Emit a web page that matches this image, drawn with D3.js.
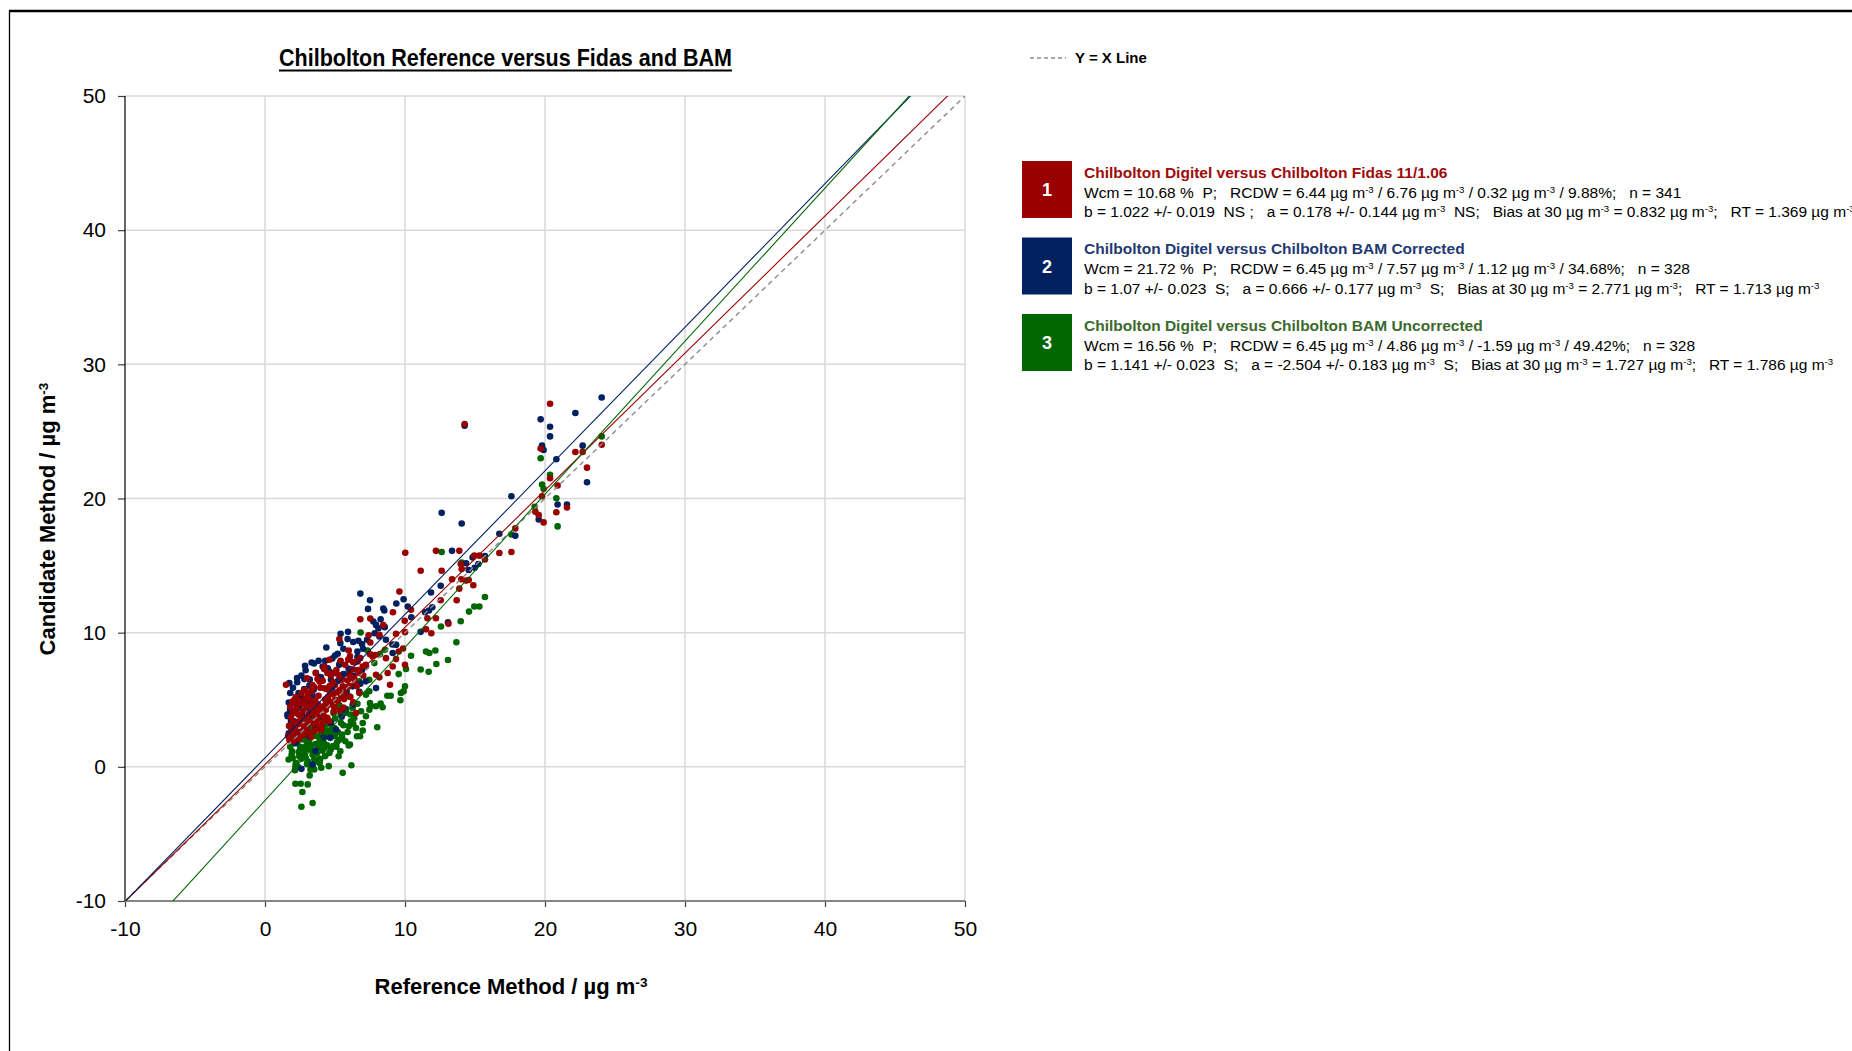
<!DOCTYPE html>
<html>
<head>
<meta charset="utf-8">
<script src="https://cdn.jsdelivr.net/npm/d3@7"></script>
<style>
  html, body { margin: 0; padding: 0; background: #fff; }
  svg { display: block; }
  text { font-family: "Liberation Sans", Arial, sans-serif; white-space: pre; }
</style>
</head>
<body>
<svg id="chart" width="1852" height="1051"></svg>
<script>
// values: [reference, candidate] in ug/m3
const bluePts = [
  [24.05,27.53],[22.17,26.37],[19.69,25.9],[20.36,25.35],[20.36,24.63],[14.26,25.43],[19.79,23.94],[19.9,23.62],
  [22.69,23.94],[20.81,22.92],[23.0,21.21],[20.9,19.55],[21.57,19.55],[19.55,18.44],[17.6,20.17],[12.62,18.93],
  [14.05,18.14],[16.74,17.37],[17.88,17.22],[13.36,16.1],[14.36,15.17],[14.83,15.61],[15.24,15.12],[15.71,15.71],
  [14.55,14.67],[14.98,14.84],[12.55,13.5],[11.86,12.99],[6.81,12.91],[7.5,12.42],[7.36,11.77],[8.45,11.8],
  [8.52,11.65],[9.38,12.17],[9.9,12.49],[10.2,11.95],[10.45,11.15],[11.43,11.52],[11.71,11.65],[11.95,11.9],
  [11.12,10.06],[13.07,10.78],[8.26,11.0],[7.74,10.83],[7.93,10.58],[8.1,10.33],[8.55,10.41],[7.83,9.96],
  [8.17,9.72],[8.64,9.47],[7.29,9.47],[6.67,9.39],[6.93,9.15],[5.93,10.06],[5.4,9.91],[5.38,9.22],[5.9,9.52],
  [9.1,9.12],[9.36,9.1],[9.12,8.48],[6.6,8.18],[7.21,7.48],[6.93,7.24],[7.93,5.87],[6.74,5.6],[4.38,8.9],
  [5.19,8.43],[4.81,8.08],[5.36,7.78],[3.33,7.78],[2.86,7.53],[3.83,7.9],[4.12,7.48],[4.48,7.34],[3.64,6.99],
  [4.0,6.67],[2.29,6.62],[1.74,6.25],[2.81,6.54],[3.17,6.05],[4.71,6.49],[4.95,6.99],[5.62,6.91],[5.98,7.29],
  [6.33,6.79],[2.4,5.5],[2.64,5.13],[2.1,4.76],[1.79,4.26],[1.62,3.77],[1.86,3.4],[2.45,4.39],[3.02,4.81],
  [3.48,5.75],[5.45,5.25],[5.83,5.63],[6.26,6.0],[6.81,6.2],[7.21,6.37],[5.07,2.78],[4.67,2.16],[2.21,1.78],
  [2.6,-0.15],[3.4,0.17],[4.71,3.27],[5.74,4.26],[6.26,4.63],[3.21,2.24],[5.48,3.73],
  [1.6,3.9],[1.7,4.8],[1.8,5.5],[2.0,5.9],[2.3,6.3],[2.6,6.8],[2.9,7.2],[3.2,6.5],[3.5,7.7],[2.2,4.1],[2.5,5.0],
  [2.8,5.8],[3.1,4.4],[3.4,5.3],[3.9,6.7],[4.3,7.9],[4.6,7.1],[5.0,8.3],[5.3,7.6],[5.6,8.8],[6.0,8.0],[6.3,9.3],
  [6.6,8.6],[1.9,2.8],[2.1,3.4],[2.4,2.6],[2.7,3.8],[3.0,3.1],[3.3,3.9],[3.6,3.0],[4.0,3.7],[4.4,4.8],[4.8,5.9],
  [5.2,6.4],[5.6,6.9],[6.0,7.3],[6.4,7.8],[7.0,8.8],[3.6,1.2],[4.2,2.2],[1.7,2.5],[1.9,3.1]
];

const redPts = [
  [20.36,27.06],[14.26,25.55],[19.69,23.72],[22.17,23.47],[22.69,23.47],[24.05,24.01],[23.0,22.3],[20.36,21.51],
  [20.9,20.97],[19.79,20.17],[19.31,19.01],[19.55,18.76],[19.9,18.22],[20.81,18.98],[21.57,19.33],[17.88,17.77],
  [16.74,15.94],[17.6,16.01],[10.02,15.96],[12.21,16.1],[13.88,16.1],[11.12,14.62],[12.62,14.62],[13.98,15.12],
  [14.95,15.74],[15.31,15.74],[15.71,15.46],[14.05,14.75],[13.36,13.98],[14.02,13.98],[14.36,13.88],[14.55,13.93],
  [14.88,13.53],[13.88,13.28],[13.69,12.42],[12.55,12.42],[9.6,13.06],[10.43,11.7],[9.14,11.52],[9.98,10.88],
  [11.6,11.08],[12.21,11.08],[11.5,10.26],[11.88,9.96],[13.1,10.66],[6.81,11.0],[7.52,11.05],[8.45,10.56],
  [8.17,9.84],[7.4,9.81],[5.31,9.52],[5.98,8.67],[7.52,9.27],[9.36,9.91],[10.0,10.04],[9.86,8.82],[9.55,8.6],
  [9.36,8.03],[9.12,7.48],[10.0,7.61],[8.76,6.99],[8.93,6.12],[8.17,6.67],[7.93,6.86],[8.64,8.1],[7.86,8.33],
  [7.69,8.23],[6.98,7.48],[6.62,7.86],[6.74,6.99],[6.38,6.62],[6.07,8.23],[4.6,7.98],[4.24,7.48],[1.5,6.12],
  [2.1,5.0],[2.86,5.75],[6.02,6.0],[6.74,5.5],[5.67,5.38],[6.31,4.81],[6.5,4.01],
  [1.65,2.3],[1.72,3.05],[1.85,3.7],[1.8,4.45],[2.05,1.95],[2.15,2.8],[2.0,3.35],[2.38,3.9],[2.3,4.7],[2.58,2.42],
  [2.47,3.4],[2.8,3.02],[2.72,4.2],[2.92,5.1],[3.02,3.68],[3.1,2.6],[3.18,4.5],[3.3,5.62],[3.42,3.2],[3.5,4.05],
  [3.6,4.9],[3.38,6.1],[3.72,3.5],[3.82,5.3],[3.9,2.92],[4.02,4.3],[4.12,6.42],[4.2,3.8],[4.3,5.02],[4.4,5.8],
  [4.52,4.6],[4.6,3.4],[4.7,6.8],[4.82,5.42],[4.9,4.12],[5.0,6.1],[5.1,7.22],[5.2,4.9],[5.32,5.7],[5.5,6.5],
  [5.6,4.42],[5.72,7.6],[5.8,5.9],[6.02,6.9],[6.1,5.2],[6.3,7.8],[6.42,6.3],[6.6,7.22],[6.8,8.1],[7.02,6.8],
  [7.2,7.6],[7.5,8.4],[3.0,6.6],[2.6,5.5],[2.2,5.2],[3.62,7.0],[4.22,7.3],[1.92,2.6],[2.42,2.1],[3.3,2.25],
  [4.0,2.75],[2.9,4.6],[3.7,4.3],[4.5,5.2],[3.2,3.3],[2.55,3.75],[4.15,3.35],[4.75,4.8],[5.45,5.3],[3.95,5.9],
  [2.75,2.35],[3.55,2.7],[2.25,4.35],[1.75,2.0],[4.85,6.3],[5.25,6.85],[3.45,4.75],[4.35,4.25],[2.85,3.55],
  [3.85,3.85],[5.9,6.45],[6.25,7.25],[5.65,5.05],[3.25,5.0],[4.62,6.02],[2.1,2.4],[3.75,6.55],[4.45,7.0],
  [5.95,8.0],[5.4,7.9],
  [2.0,4.0],[2.35,3.15],[2.65,4.75],[2.95,2.8],[3.15,3.95],[3.35,4.35],[3.65,3.25],[3.8,4.65],[4.05,3.1],
  [4.25,4.55],[4.45,3.65],[4.65,5.5],[4.95,4.45],[5.15,5.55],[5.35,4.2],[5.55,6.0],[5.75,5.35],[6.2,6.65],
  [6.55,6.0],[3.05,5.45],[3.5,5.95],[2.45,4.95],[1.95,4.85],[3.9,6.35],[4.25,5.85],[4.8,6.95],[5.05,5.0],
  [2.7,2.7],[3.6,3.75],[4.4,4.95]
];

const greenPts = [
  [24.05,24.63],[19.69,23.0],[20.36,21.76],[19.79,21.04],[19.9,20.72],[20.81,20.02],[20.9,17.92],[17.6,17.32],
  [19.26,19.38],[12.62,16.01],[14.05,15.22],[15.71,12.66],[14.95,11.95],[15.31,11.95],[14.57,11.57],[13.98,10.85],
  [12.57,10.46],[13.67,9.29],[11.5,8.6],[11.74,8.48],[12.17,8.67],[13.07,7.96],[12.24,7.66],[11.12,7.26],
  [11.69,7.09],[10.43,8.28],[10.07,7.29],[9.55,6.91],[10.0,6.0],[9.9,5.63],[9.71,5.5],[9.67,4.96],[8.74,5.3],
  [8.98,5.3],[8.4,4.44],[8.26,4.71],[8.02,2.95],[7.5,4.76],[7.57,4.51],[6.98,2.7],[6.57,2.28],[6.79,2.28],
  [6.07,1.66],[5.98,1.59],[6.17,0.12],[5.55,-0.45],[5.38,1.16],[5.26,0.79],[4.55,0.05],[4.02,-0.07],[3.4,0.05],
  [3.52,-0.2],[3.19,-0.64],[3.05,-1.31],[2.55,-1.26],[2.17,-1.26],[2.67,-1.88],[2.6,-2.97],[3.4,-2.7],[2.17,0.05],
  [2.14,-0.25],[1.69,0.55],[1.98,0.67],[1.93,1.16],[2.69,1.41],[3.52,0.55],[3.95,0.59],[3.88,0.3],[4.6,1.04],
  [4.88,1.54],[5.14,1.83],[5.74,1.91],[5.5,2.4],[5.98,3.02],[6.14,3.4],[6.38,3.64],[6.5,2.9],[6.98,3.27],
  [7.21,3.77],[6.86,4.14],[7.45,4.26],[7.93,4.51],[5.43,3.27],[4.95,2.9],[4.36,2.53],[3.76,2.28],[3.17,2.03],
  [2.93,1.54],[3.29,1.29],[4.0,1.78],[4.24,1.41],[2.45,0.79],[2.81,0.92],[3.05,0.42],[6.83,10.01],[8.57,8.72],
  [8.21,8.4],[9.36,9.1],[7.33,8.67],[7.81,7.73],[7.45,6.49],[6.74,6.37],[7.45,5.63],[7.21,5.38],[6.02,5.25],
  [6.26,4.39],[5.74,4.01],
  [1.8,1.5],[2.0,2.2],[2.3,1.8],[2.5,2.6],[2.7,1.2],[2.9,2.0],[3.1,2.8],[3.3,1.6],[3.5,2.3],[3.7,1.0],[3.8,3.0],
  [4.0,2.5],[4.2,1.8],[4.4,3.2],[4.6,2.2],[4.8,2.9],[5.0,3.6],[5.2,2.6],[5.4,3.9],[5.6,3.1],[5.8,4.3],[6.1,3.9],
  [2.2,0.3],[2.6,0.6],[3.0,0.2],[3.4,0.9],[3.9,0.3],[4.3,0.8],[4.7,1.3],[5.1,1.5],[2.4,3.3],[3.2,3.6],[3.6,4.1],
  [4.1,4.4],[4.5,4.9],[3.0,1.3],[3.6,1.7],[4.1,1.2],[2.8,2.4],[3.3,2.6],[4.5,2.7],[5.0,2.3],[3.9,2.0],[2.4,1.1],
  [1.9,0.9],[5.5,2.2],[6.3,3.2],[6.6,4.7],[4.9,4.0],[5.3,4.6],
  [2.35,0.0],[2.9,0.7],[3.25,-0.2],[3.7,0.5],[4.45,1.6],[2.5,1.5],[3.1,1.8],[3.8,1.4],[2.1,1.75],[2.65,2.05],
  [4.2,2.9],[4.75,2.45],[3.45,2.95],[2.2,2.6],[5.3,2.0],[5.9,2.6]
];

// regression lines y = b*x + a  (red, blue, green)
const slopes = [1.022, 1.07, 1.141];
const intercepts = [0.178, 0.666, -2.504];

const axisTicks = [-10, 0, 10, 20, 30, 40, 50];
const seriesColors = ['#990000', '#002060', '#006600'];
const titleColors = ['#a00a0a', '#1f3a72', '#3b6a2c'];
const legendNums = ['1', '2', '3'];
const legendTitles = [
  'Chilbolton Digitel versus Chilbolton Fidas 11/1.06',
  'Chilbolton Digitel versus Chilbolton BAM Corrected',
  'Chilbolton Digitel versus Chilbolton BAM Uncorrected'
];
const legendLine2 = [
  'Wcm = 10.68 %  P;   RCDW = 6.44 \u00b5g m{-3} / 6.76 \u00b5g m{-3} / 0.32 \u00b5g m{-3} / 9.88%;   n = 341',
  'Wcm = 21.72 %  P;   RCDW = 6.45 \u00b5g m{-3} / 7.57 \u00b5g m{-3} / 1.12 \u00b5g m{-3} / 34.68%;   n = 328',
  'Wcm = 16.56 %  P;   RCDW = 6.45 \u00b5g m{-3} / 4.86 \u00b5g m{-3} / -1.59 \u00b5g m{-3} / 49.42%;   n = 328'
];
const legendLine3 = [
  'b = 1.022 +/- 0.019  NS ;   a = 0.178 +/- 0.144 \u00b5g m{-3}  NS;   Bias at 30 \u00b5g m{-3} = 0.832 \u00b5g m{-3};   RT = 1.369 \u00b5g m{-3}',
  'b = 1.07 +/- 0.023  S;   a = 0.666 +/- 0.177 \u00b5g m{-3}  S;   Bias at 30 \u00b5g m{-3} = 2.771 \u00b5g m{-3};   RT = 1.713 \u00b5g m{-3}',
  'b = 1.141 +/- 0.023  S;   a = -2.504 +/- 0.183 \u00b5g m{-3}  S;   Bias at 30 \u00b5g m{-3} = 1.727 \u00b5g m{-3};   RT = 1.786 \u00b5g m{-3}'
];

const svg = d3.select('#chart');

const x = d3.scaleLinear().domain([-10, 50]).range([125, 965]);
const y = d3.scaleLinear().domain([-10, 50]).range([901, 96]);

// text with {superscript} parts
function richText(sel, str) {
  str.split(/\{([^}]*)\}/).forEach((p, i) => {
    if (!p) return;
    let t = sel.append('tspan').text(p);
    if (i % 2) t.attr('baseline-shift', 'super').attr('font-size', '0.62em');
  });
}

// outer frame
svg.append('line').attr('x1', 9).attr('x2', 1852).attr('y1', 11).attr('y2', 11)
  .attr('stroke', '#000').attr('stroke-width', 2.5);
svg.append('line').attr('x1', 9.5).attr('x2', 9.5).attr('y1', 10).attr('y2', 1051)
  .attr('stroke', '#000').attr('stroke-width', 1.3);

// grid
let grid = svg.append('g');
grid.selectAll('.vg').data(axisTicks.slice(1)).enter().append('line')
  .attr('x1', d => x(d)).attr('x2', d => x(d))
  .attr('y1', y(-10)).attr('y2', y(50))
  .attr('stroke', '#d9d9d9').attr('stroke-width', 1.5);
grid.selectAll('.hg').data(axisTicks.slice(1)).enter().append('line')
  .attr('x1', x(-10)).attr('x2', x(50))
  .attr('y1', d => y(d)).attr('y2', d => y(d))
  .attr('stroke', '#d9d9d9').attr('stroke-width', 1.5);

// axes (plain hyphen for negatives, like the original)
let xAxis = d3.axisBottom(x).tickValues(axisTicks).tickFormat(d => String(d)).tickSize(6).tickPadding(14);
let yAxis = d3.axisLeft(y).tickValues(axisTicks).tickFormat(d => String(d)).tickSize(7).tickPadding(12);

let gx = svg.append('g').attr('transform', 'translate(0,' + y(-10) + ')').call(xAxis);
let gy = svg.append('g').attr('transform', 'translate(' + x(-10) + ',0)').call(yAxis);
[gx, gy].forEach(g => {
  g.select('.domain').remove();
  g.selectAll('.tick line').attr('stroke', '#404040').attr('stroke-width', 1.2);
  g.selectAll('.tick text').attr('font-size', 21).attr('fill', '#000')
    .attr('font-family', '"Liberation Sans", Arial, sans-serif');
});

svg.append('line').attr('x1', x(-10)).attr('x2', x(-10)).attr('y1', y(50)).attr('y2', y(-10))
  .attr('stroke', '#000').attr('stroke-width', 1.2);
svg.append('line').attr('x1', x(-10)).attr('x2', x(50)).attr('y1', y(-10)).attr('y2', y(-10))
  .attr('stroke', '#868686').attr('stroke-width', 2.2);

// points: green, blue, red
svg.append('clipPath').attr('id', 'plotclip').append('rect')
  .attr('x', x(-10)).attr('y', y(50)).attr('width', x(50) - x(-10)).attr('height', y(-10) - y(50));

let series = [redPts, bluePts, greenPts];
[2, 1, 0].forEach(i => {
  svg.append('g').selectAll('circle').data(series[i]).enter().append('circle')
    .attr('cx', d => x(d[0])).attr('cy', d => y(d[1]))
    .attr('r', 3.3).attr('fill', seriesColors[i]);
});

// y = x line and regression lines
let lines = svg.append('g').attr('clip-path', 'url(#plotclip)');
lines.append('line')
  .attr('x1', x(-10)).attr('y1', y(-10)).attr('x2', x(50)).attr('y2', y(50))
  .attr('stroke', '#8c8c8c').attr('stroke-width', 1.4).attr('stroke-dasharray', '5,4');

slopes.forEach((b, i) => {
  let a = intercepts[i];
  lines.append('line')
    .attr('x1', x(-10)).attr('y1', y(b * -10 + a))
    .attr('x2', x(50)).attr('y2', y(b * 50 + a))
    .attr('stroke', seriesColors[i]).attr('stroke-width', 1.1);
});

// title
svg.append('text').attr('x', 279).attr('y', 66)
  .attr('font-size', 24).attr('font-weight', 'bold')
  .attr('textLength', 453).attr('lengthAdjust', 'spacingAndGlyphs')
  .text('Chilbolton Reference versus Fidas and BAM');
svg.append('line').attr('x1', 279).attr('x2', 732).attr('y1', 70.5).attr('y2', 70.5)
  .attr('stroke', '#000').attr('stroke-width', 2);

// axis titles
let xt = svg.append('text').attr('x', 511).attr('y', 994)
  .attr('text-anchor', 'middle').attr('font-size', 22).attr('font-weight', 'bold');
richText(xt, 'Reference Method / \u00b5g m{-3}');

let yt = svg.append('text').attr('transform', 'translate(55,519) rotate(-90)')
  .attr('text-anchor', 'middle').attr('font-size', 22).attr('font-weight', 'bold');
richText(yt, 'Candidate Method / \u00b5g m{-3}');

// Y = X legend
svg.append('line').attr('x1', 1030).attr('x2', 1066).attr('y1', 58).attr('y2', 58)
  .attr('stroke', '#8c8c8c').attr('stroke-width', 1.4).attr('stroke-dasharray', '4,3');
svg.append('text').attr('x', 1075).attr('y', 63).attr('font-size', 15).attr('font-weight', 'bold')
  .text('Y = X Line');

// series legend
legendTitles.forEach((t, i) => {
  let top = 161 + i * 76.5;
  let g = svg.append('g');
  g.append('rect').attr('x', 1022).attr('y', top).attr('width', 50).attr('height', 57)
    .attr('fill', seriesColors[i]);
  g.append('text').attr('x', 1047).attr('y', top + 35).attr('text-anchor', 'middle')
    .attr('font-size', 18).attr('font-weight', 'bold').attr('fill', '#fff').text(legendNums[i]);
  g.append('text').attr('x', 1084).attr('y', top + 16.5).attr('font-size', 15.5)
    .attr('font-weight', 'bold').attr('fill', titleColors[i]).text(t);
  richText(g.append('text').attr('x', 1084).attr('y', top + 36.5).attr('font-size', 15.5), legendLine2[i]);
  richText(g.append('text').attr('x', 1084).attr('y', top + 56).attr('font-size', 15.5), legendLine3[i]);
});
</script>
</body>
</html>
